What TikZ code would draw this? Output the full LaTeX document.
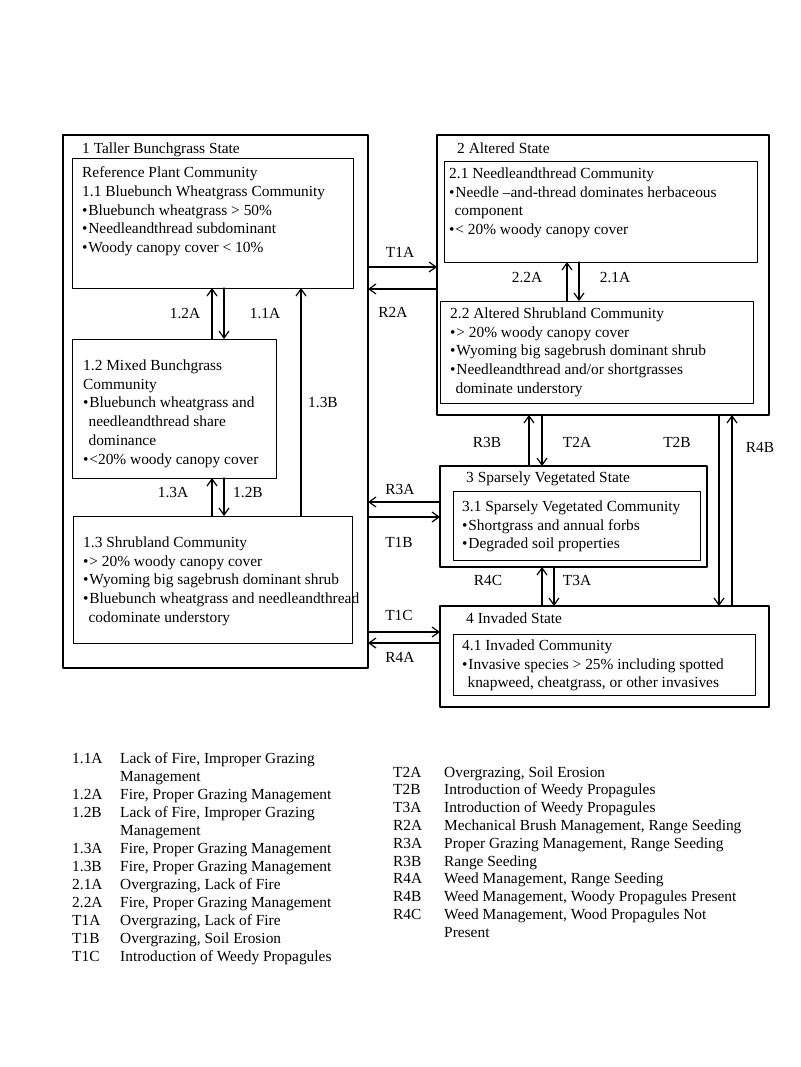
\documentclass[tikz,border=0pt]{standalone}
\usepackage{fontspec}
\setmainfont{Liberation Serif}
\usetikzlibrary{arrows.meta}
\usetikzlibrary{positioning}
\newcommand{\bpt}{\textbullet\kern0.8pt}
\newcommand{\bind}{\phantom{\textbullet}}

\begin{document}
\begin{tikzpicture}[line cap=round,line join=round, x=1pt,y=-1pt,
  statebox/.style={draw, line width=2.4pt, anchor=north west, inner sep=0pt, outer sep=0pt},
  combox/.style={draw, line width=0.9pt, anchor=north west, inner sep=0pt, outer sep=0pt},
  comtext/.style={anchor=north west, align=left, inner sep=0pt, font=\fontsize{15.4}{18.8}\selectfont},
  lbl/.style={anchor=base, inner sep=0pt, font=\fontsize{15.4}{18}\selectfont},
  ttl/.style={anchor=base west, inner sep=0pt, font=\fontsize{15.4}{18}\selectfont},
  legtext/.style={anchor=north west, inner sep=0pt},
  arr/.style={line width=1.2pt, -{Straight Barb[length=7pt, width=10pt]}}]
\useasboundingbox (0,0) rectangle (800,1067);
\node[statebox, minimum width=305, minimum height=533] (s1) at (63,135) {};
\node[statebox, minimum width=332, minimum height=280] (s2) at (437,135) {};
\node[statebox, minimum width=267, minimum height=101] (s3) at (440,466) {};
\node[statebox, minimum width=329, minimum height=101] (s4) at (440,606) {};
\node[ttl] (s1t) at (82,154) {1 Taller Bunchgrass State};
\node[ttl] (s2t) at (457,154) {2 Altered State};
\node[ttl] (s3t) at (466,482) {3 Sparsely Vegetated State};
\node[ttl] (s4t) at (466,623) {4 Invaded State};
\node[combox, minimum width=281, minimum height=130] (c11) at (72,158) {};
\node[combox, minimum width=204, minimum height=139] (c12) at (72,339) {};
\node[combox, minimum width=279, minimum height=127] (c13) at (73,516) {};
\node[combox, minimum width=313, minimum height=101] (c21) at (444,161) {};
\node[combox, minimum width=313, minimum height=102] (c22) at (440,301) {};
\node[combox, minimum width=247, minimum height=69] (c31) at (453,491) {};
\node[combox, minimum width=302, minimum height=61] (c41) at (453,634) {};
\node[comtext] (c11t) at ([shift={(10,8.5)}]c11.north west) {Reference Plant Community\\1.1 Bluebunch Wheatgrass Community\\\bpt Bluebunch wheatgrass > 50\%\\\bpt Needleandthread subdominant\\\bpt Woody canopy cover < 10\%};
\node[comtext] (c12t) at ([shift={(11,20.5)}]c12.north west) {1.2 Mixed Bunchgrass\\Community\\\bpt Bluebunch wheatgrass and\\\bind needleandthread share\\\bind dominance\\\bpt <20\% woody canopy cover};
\node[comtext] (c13t) at ([shift={(10,20.5)}]c13.north west) {1.3 Shrubland Community\\\bpt > 20\% woody canopy cover\\\bpt Wyoming big sagebrush dominant shrub\\\bpt Bluebunch wheatgrass and needleandthread\\\bind codominate understory};
\node[comtext] (c21t) at ([shift={(5,6.5)}]c21.north west) {2.1 Needleandthread Community\\\bpt Needle –and-thread dominates herbaceous\\\bind component\\\bpt < 20\% woody canopy cover};
\node[comtext] (c22t) at ([shift={(10,6.5)}]c22.north west) {2.2 Altered Shrubland Community\\\bpt > 20\% woody canopy cover\\\bpt Wyoming big sagebrush dominant shrub\\\bpt Needleandthread and/or shortgrasses\\\bind dominate understory};
\node[comtext] (c31t) at ([shift={(9,9.5)}]c31.north west) {3.1 Sparsely Vegetated Community\\\bpt Shortgrass and annual forbs\\\bpt Degraded soil properties};
\node[comtext] (c41t) at ([shift={(9,5.5)}]c41.north west) {4.1 Invaded Community\\\bpt Invasive species > 25\% including spotted\\\bind knapweed, cheatgrass, or other invasives};
\draw[arr] (c12.north -| 212,0) -- (c11.south -| 212,0);
\draw[arr] (c11.south -| 224,0) -- (c12.north -| 224,0);
\draw[arr] (c13.north -| 301,0) -- (c11.south -| 301,0);
\draw[arr] (c13.north -| 212,0) -- (c12.south -| 212,0);
\draw[arr] (c12.south -| 224,0) -- (c13.north -| 224,0);
\draw[arr] (c22.north -| 567,0) -- (c21.south -| 567,0);
\draw[arr] (c21.south -| 579,0) -- (c22.north -| 579,0);
\draw[arr] (s1.east |- 0,267) -- (s2.west |- 0,267);
\draw[arr] (s2.west |- 0,289) -- (s1.east |- 0,289);
\draw[arr] (s3.west |- 0,502) -- (s1.east |- 0,502);
\draw[arr] (s1.east |- 0,517) -- (s3.west |- 0,517);
\draw[arr] (s1.east |- 0,632) -- (s4.west |- 0,632);
\draw[arr] (s4.west |- 0,643) -- (s1.east |- 0,643);
\draw[arr] (s3.north -| 529,0) -- (s2.south -| 529,0);
\draw[arr] (s2.south -| 542,0) -- (s3.north -| 542,0);
\draw[arr] (s4.north -| 542,0) -- (s3.south -| 542,0);
\draw[arr] (s3.south -| 554,0) -- (s4.north -| 554,0);
\draw[arr] (s2.south -| 719,0) -- (s4.north -| 719,0);
\draw[arr] (s4.north -| 732,0) -- (s2.south -| 732,0);
\node[lbl] (l12a) at (185,318) {1.2A};
\node[lbl] (l11a) at (265,318) {1.1A};
\node[lbl] (l13b) at (323,407) {1.3B};
\node[lbl] (l13a) at (173,497) {1.3A};
\node[lbl] (l12b) at (248,497) {1.2B};
\node[lbl] (lt1a) at (400,257) {T1A};
\node[lbl] (lr2a) at (393,317) {R2A};
\node[lbl] (lr3a) at (400,494) {R3A};
\node[lbl] (lt1b) at (399,547) {T1B};
\node[lbl] (lt1c) at (399,620) {T1C};
\node[lbl] (lr4a) at (400,662) {R4A};
\node[lbl] (l22a) at (527,282) {2.2A};
\node[lbl] (l21a) at (615,282) {2.1A};
\node[lbl] (lr3b) at (487,447) {R3B};
\node[lbl] (lt2a) at (577,447) {T2A};
\node[lbl] (lt2b) at (677,447) {T2B};
\node[lbl] (lr4b) at (760,452) {R4B};
\node[lbl] (lr4c) at (488,585) {R4C};
\node[lbl] (lt3a) at (577,585) {T3A};
\node[legtext, font=\fontsize{15.4}{18}\selectfont] (legl) at (72,750.4) {\begin{tabular}{@{}p{48pt}@{}l@{}}
1.1A & Lack of Fire, Improper Grazing\\
 & Management\\
1.2A & Fire, Proper Grazing Management\\
1.2B & Lack of Fire, Improper Grazing\\
 & Management\\
1.3A & Fire, Proper Grazing Management\\
1.3B & Fire, Proper Grazing Management\\
2.1A & Overgrazing, Lack of Fire\\
2.2A & Fire, Proper Grazing Management\\
T1A & Overgrazing, Lack of Fire\\
T1B & Overgrazing, Soil Erosion\\
T1C & Introduction of Weedy Propagules
\end{tabular}};
\node[legtext, font=\fontsize{15.4}{17.8}\selectfont] (legr) at (393,764.5) {\begin{tabular}{@{}p{51pt}@{}l@{}}
T2A & Overgrazing, Soil Erosion\\
T2B & Introduction of Weedy Propagules\\
T3A & Introduction of Weedy Propagules\\
R2A & Mechanical Brush Management, Range Seeding\\
R3A & Proper Grazing Management, Range Seeding\\
R3B & Range Seeding\\
R4A & Weed Management, Range Seeding\\
R4B & Weed Management, Woody Propagules Present\\
R4C & Weed Management, Wood Propagules Not\\
 & Present
\end{tabular}};
\end{tikzpicture}
\end{document}
